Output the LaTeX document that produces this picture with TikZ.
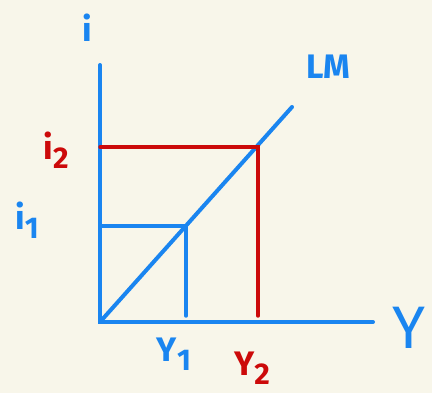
\documentclass[tikz,border=0pt]{standalone}
\usepackage{fontspec}
\setmainfont{Fira Sans}
\definecolor{paper}{HTML}{F8F6EA}
\definecolor{penblue}{HTML}{1A85F0}
\definecolor{penred}{HTML}{CC0A0A}
\newcommand{\lowidx}[1]{\raisebox{-0.5ex}{\fontsize{30}{30}\selectfont #1}}

\begin{document}
\begin{tikzpicture}[
        x=1pt, y=-1pt,
        every node/.style={font=\fontsize{34}{36}\selectfont\bfseries, inner sep=0pt},
        axis/.style={penblue, line width=4pt, line cap=round},
        level/.style={line width=3.5pt, line cap=round}
    ]
    \fill[paper] (0,0) rectangle (432,393);

    % Points
    \coordinate (O) at (100,322);
    \coordinate (itop) at (100,65);
    \coordinate (yend) at (373,322);
    \coordinate (lmend) at (292,107);
    \coordinate (E1) at (186,226);
    \coordinate (E2) at (258,147);
    \coordinate (foot1) at (186,316);
    \coordinate (foot2) at (258,316);

    % Labels
    \node[penblue] (ilab) at (87,28) {i};
    \node[penblue] (lmlab) at (328,67) {LM};
    \node[penred] (i2lab) at (56,150) {i\lowidx{2}};
    \node[penblue] (i1lab) at (27,220) {i\lowidx{1}};
    \node[penblue] (y1lab) at (174,354) {Y\lowidx{1}};
    \node[penred] (y2lab) at (252,368) {Y\lowidx{2}};
    \node[penblue, font=\fontsize{60}{62}\selectfont] (ylab) at (409,328) {Y};

    % Lines
    \draw[axis] (itop) -- (O) -- (yend);
    \draw[axis] (O) -- (lmend);
    \draw[level, penblue] (O |- E1) -- (E1) -- (foot1);
    \draw[level, penred] (O |- E2) -- (E2) -- (foot2);
\end{tikzpicture}
\end{document}
